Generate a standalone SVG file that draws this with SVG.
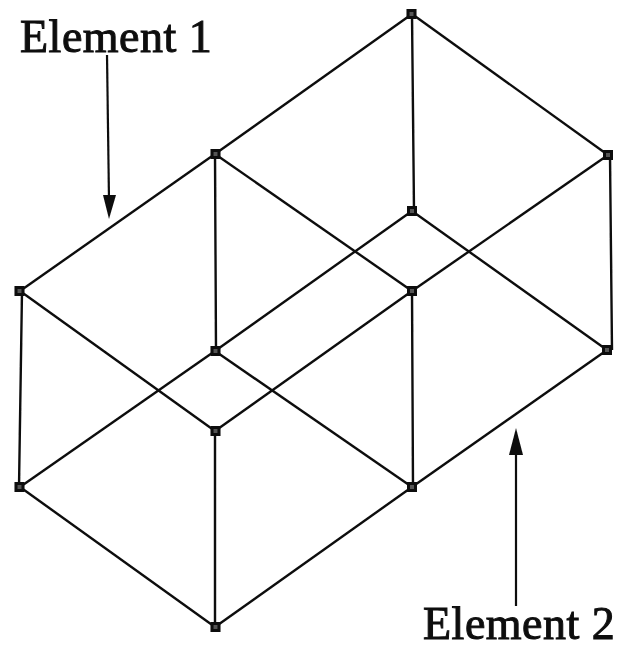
<svg xmlns="http://www.w3.org/2000/svg" width="622" height="649" viewBox="0 0 622 649">
<style>
.e{stroke:#111;stroke-width:2.4;fill:none}
.ar{stroke:#111;stroke-width:2.2;fill:none}
.h{fill:#111}
.n{fill:#555;stroke:#0a0a0a;stroke-width:3}
.t{font-family:"Liberation Serif",serif;font-size:46px;fill:#0a0a0a;stroke:#0a0a0a;stroke-width:1;letter-spacing:.5px}
</style>
<defs><filter id="soft" x="0" y="0" width="622" height="649" filterUnits="userSpaceOnUse"><feGaussianBlur stdDeviation="0.55"/></filter></defs>
<rect width="622" height="649" fill="#fff"/>
<g filter="url(#soft)">
<g id="connectors">
<path class="e" d="M412 14L215 154M412 14L608 155M412 14L414 211M215 154L20 291M215 154L216 351M215 154L412 291M608 155L412 291M610 155L612 350M412 211L215 351M412 211L607 350M22 291L19 487M20 291L215 431M412 291L413 487M412 291L215 431M215 351L20 487M215 351L412 487M607 350L412 487M215 431L215 627M20 487L215 627M412 487L215 627"/>
<path class="ar" d="M107 55L109 200"/>
<path class="h" d="M103 195L109 219L116 195Z"/>
<path class="ar" d="M516 606L516 445"/>
<path class="h" d="M509 455L516 428L523 455Z"/>
</g>
<g id="n1"><rect class="n" x="408" y="10.500" width="7" height="7"/></g>
<g id="n2"><rect class="n" x="212" y="150.500" width="7" height="7"/></g>
<g id="n3"><rect class="n" x="604.500" y="151.500" width="7" height="7"/></g>
<g id="n4"><rect class="n" x="408.500" y="207.500" width="7" height="7"/></g>
<g id="n5"><rect class="n" x="16" y="287.500" width="7" height="7"/></g>
<g id="n6"><rect class="n" x="408.500" y="287.500" width="7" height="7"/></g>
<g id="n7"><rect class="n" x="212" y="347.500" width="7" height="7"/></g>
<g id="n8"><rect class="n" x="603.500" y="346.500" width="7" height="7"/></g>
<g id="n9"><rect class="n" x="212" y="427.500" width="7" height="7"/></g>
<g id="n10"><rect class="n" x="16" y="483.500" width="7" height="7"/></g>
<g id="n11"><rect class="n" x="408.500" y="483.500" width="7" height="7"/></g>
<g id="n12"><rect class="n" x="212" y="623.500" width="7" height="7"/></g>
<g id="label1"><text class="t" x="20" y="52">Element 1</text></g>
<g id="label2"><text class="t" x="423" y="639">Element 2</text></g>
</g>
</svg>
